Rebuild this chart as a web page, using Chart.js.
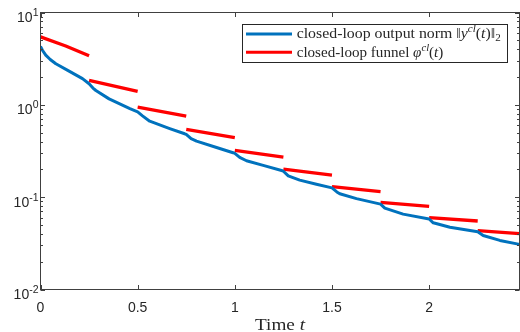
<!DOCTYPE html>
<html><head><meta charset="utf-8">
<script src="https://cdn.jsdelivr.net/npm/chart.js@4/dist/chart.umd.min.js"></script>
<style>html,body{margin:0;padding:0;background:#fff}#wrap{width:520px;height:332px}</style>
</head><body><div id="wrap"><canvas id="c" width="520" height="332"></canvas></div>
<script>
// ---- data ----
const outputTimes  = [0, 0.01, 0.027, 0.05, 0.079, 0.147, 0.216, 0.25, 0.27, 0.285, 0.353, 0.46, 0.5, 0.525, 0.562, 0.665, 0.742, 0.75, 0.775, 0.803, 0.906, 0.991, 1.0, 1.025, 1.06, 1.146, 1.245, 1.25, 1.275, 1.334, 1.42, 1.5, 1.525, 1.54, 1.626, 1.75, 1.772, 1.866, 2.0, 2.021, 2.107, 2.25, 2.278, 2.364, 2.465];
const outputValues = [4.3, 3.9, 3.45, 3.1, 2.79, 2.32, 1.92, 1.69, 1.52, 1.43, 1.16, 0.91, 0.84, 0.76, 0.665, 0.553, 0.486, 0.478, 0.43, 0.405, 0.345, 0.303, 0.298, 0.27, 0.248, 0.221, 0.193, 0.191, 0.17, 0.153, 0.138, 0.126, 0.114, 0.109, 0.0964, 0.084, 0.076, 0.0655, 0.058, 0.0528, 0.0472, 0.0422, 0.0385, 0.034, 0.0308];

const funnelStartTimes  = [0, 0.25, 0.5, 0.75, 1.0, 1.25, 1.5, 1.75, 2.0, 2.25];
const funnelEndTimes    = [0.25, 0.5, 0.75, 1.0, 1.25, 1.5, 1.75, 2.0, 2.25, 2.465];
const funnelStartValues = [5.45, 1.84, 0.944, 0.542, 0.321, 0.201, 0.130, 0.0879, 0.060, 0.0434];
const funnelEndValues   = [3.40, 1.40, 0.755, 0.442, 0.272, 0.173, 0.115, 0.0795, 0.0552, 0.0403];
const funnelFirstMidTime  = 0.13;
const funnelFirstMidValue = 4.34;

const xRange = [0, 2.465];
const yRange = [0.01, 10];
const xTicks = [0, 0.5, 1, 1.5, 2];
const xTickLabels = ['0', '0.5', '1', '1.5', '2'];
const yTicks = [0.01, 0.1, 1, 10];
const yTickBase = '10';
const yTickExponents = ['-2', '-1', '0', '1'];

const seriesNames = ['closed-loop output norm', 'closed-loop funnel'];
const legendRuns = [
  [{t:'closed-loop output norm '}, {t:'\u2016'}, {t:'y', i:true}, {t:'cl', i:true, s:'sup'}, {t:'('}, {t:'t', i:true}, {t:')\u2016'}, {t:'2', s:'sub'}],
  [{t:'closed-loop funnel '}, {t:'\u03C6', i:true}, {t:'cl', i:true, s:'sup'}, {t:'('}, {t:'t', i:true}, {t:')'}]
];
const xTitleRuns = [{t:'Time '}, {t:'t', i:true}];
const seriesColors = ['#0072BD', '#FF0000'];

// ---- build datasets ----
const outputData = outputTimes.map((t, k) => ({x: t, y: outputValues[k]}));
const funnelData = [];
funnelStartTimes.forEach((t0, k) => {
  funnelData.push({x: t0, y: funnelStartValues[k]});
  if (k === 0) funnelData.push({x: funnelFirstMidTime, y: funnelFirstMidValue});
  funnelData.push({x: funnelEndTimes[k], y: funnelEndValues[k]});
  funnelData.push({x: funnelEndTimes[k], y: null});
});

const SERIF = '"Liberation Serif","Times New Roman",serif';
const SANS = '"Liberation Sans",Arial,sans-serif';
const INK = '#262626';

function drawRuns(ctx, runs, x, y, size, targetWidth, align) {
  const parts = runs.map(r => {
    const sz = r.s ? size * 0.7 : size;
    const font = (r.i ? 'italic ' : '') + sz + 'px ' + SERIF;
    ctx.font = font;
    return {text: r.t, font, w: ctx.measureText(r.t).width, dy: r.s === 'sup' ? -size * 0.42 : (r.s === 'sub' ? size * 0.22 : 0)};
  });
  const total = parts.reduce((a, p) => a + p.w, 0);
  const sc = targetWidth ? targetWidth / total : 1;
  ctx.save();
  let x0 = x;
  if (align === 'center') x0 = x - total * sc / 2;
  ctx.translate(x0, y);
  ctx.scale(sc, 1);
  ctx.textBaseline = 'alphabetic';
  ctx.textAlign = 'left';
  let cx = 0;
  parts.forEach(p => { ctx.font = p.font; ctx.fillText(p.text, cx, p.dy); cx += p.w; });
  ctx.restore();
}

const frame = {
  id: 'frame',
  afterDraw(chart) {
    const ctx = chart.ctx, a = chart.chartArea;
    const xs = chart.scales.x, ys = chart.scales.y;
    ctx.save();
    ctx.strokeStyle = '#404040';
    ctx.lineWidth = 1;
    ctx.strokeRect(a.left, a.top, a.right - a.left, a.bottom - a.top);
    // x ticks
    ctx.beginPath();
    xTicks.forEach(v => {
      const px = Math.round(xs.getPixelForValue(v)) + 0.5;
      ctx.moveTo(px, a.bottom); ctx.lineTo(px, a.bottom - 4.5);
      ctx.moveTo(px, a.top); ctx.lineTo(px, a.top + 4.5);
    });
    // y ticks (major and minor)
    for (let e = -2; e <= 1; e++) {
      for (let m = 1; m <= 9; m++) {
        const v = m * Math.pow(10, e);
        if (v > yRange[1] * 1.0001) continue;
        const py = Math.round(ys.getPixelForValue(v)) + 0.5;
        const len = m === 1 ? 4.5 : 2.5;
        ctx.moveTo(a.left, py); ctx.lineTo(a.left + len, py);
        ctx.moveTo(a.right, py); ctx.lineTo(a.right - len, py);
      }
    }
    ctx.stroke();
    // tick labels
    ctx.fillStyle = INK;
    ctx.textBaseline = 'alphabetic';
    ctx.font = '14px ' + SANS;
    ctx.textAlign = 'center';
    xTicks.forEach((v, k) => ctx.fillText(xTickLabels[k], xs.getPixelForValue(v), a.bottom + 22));
    yTicks.forEach((v, k) => {
      const py = ys.getPixelForValue(v);
      ctx.textAlign = 'right';
      ctx.font = '10.5px ' + SANS;
      const ew = ctx.measureText(yTickExponents[k]).width;
      ctx.fillText(yTickExponents[k], 38.5, py + 3.5);
      ctx.font = '14px ' + SANS;
      ctx.fillText(yTickBase, 38.5 - ew, py + 9.5);
    });
    // x title
    drawRuns(ctx, xTitleRuns, (a.left + a.right) / 2, 330, 17, 50, 'center');
    // legend
    const bx = 242.5, by = 24.5, bw = 265, bh = 38;
    ctx.fillStyle = '#fff';
    ctx.fillRect(bx, by, bw, bh);
    ctx.strokeStyle = INK;
    ctx.lineWidth = 1;
    ctx.strokeRect(bx, by, bw, bh);
    const rows = [34, 52.3];
    const widths = [204, 146.6];
    rows.forEach((ry, k) => {
      ctx.strokeStyle = seriesColors[k];
      ctx.lineWidth = 3;
      ctx.beginPath(); ctx.moveTo(246, ry); ctx.lineTo(292, ry); ctx.stroke();
      ctx.fillStyle = INK;
      drawRuns(ctx, legendRuns[k], 296.7, ry + 4.3, 14, widths[k], 'left');
    });
    ctx.restore();
  }
};

new Chart(document.getElementById('c'), {
  type: 'line',
  data: {
    datasets: [
      {label: seriesNames[0], data: outputData, borderColor: seriesColors[0], borderWidth: 3, pointRadius: 0, tension: 0, fill: false, borderJoinStyle: 'round'},
      {label: seriesNames[1], data: funnelData, borderColor: seriesColors[1], borderWidth: 3.3, pointRadius: 0, tension: 0, fill: false, spanGaps: false, borderJoinStyle: 'round'}
    ]
  },
  options: {
    responsive: false,
    animation: false,
    devicePixelRatio: 1,
    layout: {padding: {top: 12.5, right: 0.5, left: 0, bottom: 0}},
    plugins: {legend: {display: false}, tooltip: {enabled: false}},
    scales: {
      x: {
        type: 'linear', min: xRange[0], max: xRange[1],
        afterBuildTicks(s) { s.ticks = xTicks.map(v => ({value: v})); },
        ticks: {display: false},
        grid: {display: false},
        border: {display: false},
        afterFit(s) { s.height = 42.5; }
      },
      y: {
        type: 'logarithmic', min: yRange[0], max: yRange[1],
        ticks: {display: false},
        grid: {display: false},
        border: {display: false},
        afterFit(s) { s.width = 40.5; }
      }
    }
  },
  plugins: [frame]
});
</script></body></html>
